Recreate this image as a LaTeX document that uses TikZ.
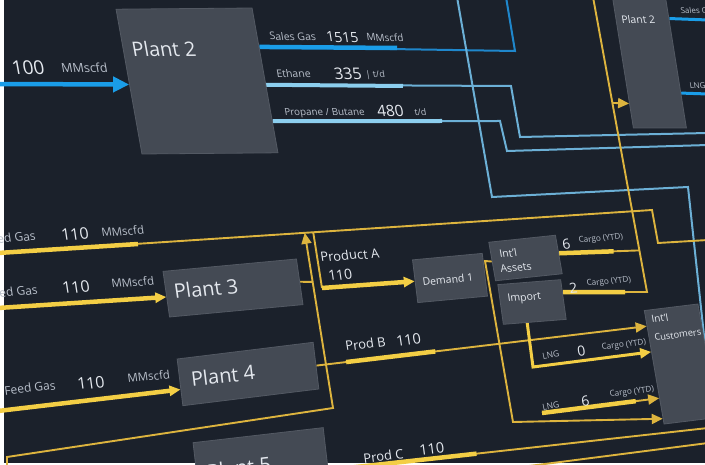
\documentclass[tikz,border=0pt]{standalone}
\usepackage{fontspec}
\setmainfont{Open Sans}
\usepackage{xcolor}
\usepackage{tikz}
\usetikzlibrary{arrows.meta, calc, positioning}

\definecolor{bgnavy}{HTML}{1B212B}
\definecolor{boxfill}{HTML}{444A54}
\definecolor{boxedge}{HTML}{535963}
\definecolor{txtmain}{HTML}{E4E8EE}
\definecolor{txtsub}{HTML}{B8BFCA}
\definecolor{gasbright}{HTML}{1A9DE8}
\definecolor{gasthin}{HTML}{1F87CC}
\definecolor{nglbright}{HTML}{8CCEEE}
\definecolor{nglthin}{HTML}{6CB0D6}
\definecolor{yelbright}{HTML}{F3CE45}
\definecolor{yelthin}{HTML}{DDB43E}

\pgfdeclarelayer{backdrop}
\pgfdeclarelayer{wires}
\pgfsetlayers{backdrop,wires,main}

\tikzset{
  box/.style={draw=boxedge, fill=boxfill, line width=0.8pt, inner sep=0pt},
  tilt/.style 2 args={rotate=#1, xslant=#2},
  fs/.style={font=\fontsize{#1}{#1}\selectfont},
  lbl/.style={text=txtmain, anchor=base west, inner sep=0pt, outer sep=0pt},
  unitlbl/.style={lbl, text=txtsub},
  gasbar/.style={draw=gasbright, line width=4.5pt},
  gasline/.style={draw=gasthin, line width=2pt},
  nglbar/.style={draw=nglbright, line width=4pt},
  nglline/.style={draw=nglthin, line width=2pt},
  ybar/.style={draw=yelbright, line width=4.5pt},
  yline/.style={draw=yelthin, line width=1.9pt},
  ymid/.style={draw=yelbright, line width=3pt},
  yarrow/.style={-{Triangle[length=11pt, width=10pt]}},
  gasarrow/.style={-{Triangle[length=16pt, width=15pt]}}
}

\begin{document}
\begin{tikzpicture}[x=1pt, y=-1pt]

    \useasboundingbox (0,0) rectangle (705,465);
    \begin{pgfonlayer}{backdrop}
      \fill[white] (0,0) rectangle (705,465);
      \fill[bgnavy] (4,0) rectangle (705,463);
    \end{pgfonlayer}

    % plants and sinks
    \node[box, tilt={0.5}{-0.17}, minimum width=136pt, minimum height=145pt] (plant2) at (197,81) {};
    \node[box, tilt={0}{-0.16}, minimum width=53pt, minimum height=130pt] (plant2r) at (649.5,63) {};
    \node[box, tilt={5.3}{-0.05}, minimum width=134pt, minimum height=46pt] (plant3) at (233,288) {};
    \node[box, tilt={7}{0}, minimum width=137pt, minimum height=47pt] (plant4) at (248,374) {};
    \node[box, tilt={6.6}{0}, minimum width=131pt, minimum height=50pt] (plant5) at (261,460) {};
    \node[box, tilt={5.3}{-0.03}, minimum width=70pt, minimum height=43pt] (demand1) at (450,278) {};
    \node[box, tilt={6}{-0.07}, minimum width=67pt, minimum height=39pt] (assets) at (525.5,258) {};
    \node[box, tilt={4.5}{-0.06}, minimum width=63pt, minimum height=40pt] (import) at (532,302) {};
    \node[box, tilt={7}{-0.05}, minimum width=54pt, minimum height=115pt] (cust) at (681,364) {};

    \begin{pgfonlayer}{wires}
    % gas side
    \coordinate (gasIn) at (-2,84);
    \draw[gasbar, gasarrow] (gasIn) -- ($(plant2.north west)!0.52!(plant2.south west)$);

    \coordinate (sgOut) at ($(plant2.north east)!0.27!(plant2.south east)$);
    \coordinate (sgTurn) at (515,51);
    \coordinate (sgTop) at (506,-3);
    \draw[gasline] (sgOut) -- (sgTurn) -- (sgTop);
    \draw[gasbar] (sgOut) -- (397,48);

    \coordinate (etOut) at ($(plant2.north east)!0.53!(plant2.south east)$);
    \coordinate (etTurnA) at (511,86);
    \coordinate (etTurnB) at (520,137);
    \coordinate (etEnd) at (708,133);
    \draw[nglline] (etOut) -- (etTurnA) -- (etTurnB) -- (etEnd);
    \draw[nglbar] (etOut) -- (403,86);

    \coordinate (prOut) at ($(plant2.north east)!0.78!(plant2.south east)$);
    \coordinate (prTurnA) at (500,121);
    \coordinate (prTurnB) at (507,151);
    \coordinate (prEnd) at (708,145);
    \draw[nglline] (prOut) -- (prTurnA) -- (prTurnB) -- (prEnd);
    \draw[nglbar] (prOut) -- (442,121);

    \coordinate (lbTop) at (457,-3);
    \coordinate (lbTurnA) at (492,197);
    \coordinate (lbTurnB) at (688,187);
    \coordinate (lbEnd) at (705,345);
    \draw[nglline] (lbTop) -- (lbTurnA) -- (lbTurnB) -- (lbEnd);

    \draw[gasbar, line width=3pt] ($(plant2r.north east)!0.16!(plant2r.south east)$) -- (708,20);
    \draw[gasbar, line width=3pt] ($(plant2r.north east)!0.73!(plant2r.south east)$) -- (708,94);

    % feed side
    \coordinate (feedTopIn) at (-2,253);
    \coordinate (feedTopTurnA) at (652,210);
    \coordinate (feedTopTurnB) at (658,243);
    \coordinate (feedTopEnd) at (708,240);
    \draw[yline] (feedTopIn) -- (feedTopTurnA) -- (feedTopTurnB) -- (feedTopEnd);
    \draw[ybar] (feedTopIn) -- (138,244);
    \coordinate (joinUp) at ($(feedTopIn)!0.469!(feedTopTurnA)$);
    \coordinate (joinA) at ($(feedTopIn)!0.482!(feedTopTurnA)$);

    \coordinate (feed3In) at (-2,308);
    \draw[ybar, yarrow] (feed3In) -- ($(plant3.north west)!0.56!(plant3.south west)$);
    \coordinate (feed4In) at (-2,411);
    \draw[ybar, yarrow] (feed4In) -- ($(plant4.north west)!0.65!(plant4.south west)$);

    \coordinate (loopA) at (7,470);
    \coordinate (loopB) at (7,457);
    \coordinate (loopC) at (333,408);
    \draw[yline, yarrow] (loopA) -- (loopB) -- (loopC) -- (joinUp);
    \draw[yline] (plant3.east) -- ($(loopC)!0.72!(joinUp)$);

    \coordinate (prodATurn) at (322,288);
    \draw[yline] (joinA) -- (prodATurn);
    \draw[ybar, yarrow] (prodATurn) -- (demand1.west);

    \coordinate (custB) at ($(cust.north west)!0.14!(cust.south west)$);
    \draw[yline, yarrow] (plant4.east) -- (custB);
    \draw[ybar] ($(plant4.east)!0.09!(custB)$) -- ($(plant4.east)!0.36!(custB)$);

    \coordinate (assetsTurnA) at (485,261);
    \coordinate (assetsTurnB) at (513,422);
    \draw[yline, yarrow] (assets.west) -- (assetsTurnA) -- (assetsTurnB) -- ($(cust.north west)!0.95!(cust.south west)$);

    \coordinate (lngSixIn) at (542,413);
    \coordinate (custL6) at ($(cust.north west)!0.77!(cust.south west)$);
    \draw[yline, yarrow] (lngSixIn) -- (custL6);
    \draw[ybar] (lngSixIn) -- ($(lngSixIn)!0.8!(custL6)$);

    \coordinate (lngZeroOut) at ($(import.south west)!0.38!(import.south east)$);
    \coordinate (lngZeroTurn) at (533,367);
    \draw[ymid, yarrow] (lngZeroOut) -- (lngZeroTurn) -- ($(cust.north west)!0.365!(cust.south west)$);

    \coordinate (upTop) at (593,-3);
    \coordinate (upBot) at (647,292);
    \coordinate (c6Out) at ($(assets.north east)!0.47!(assets.south east)$);
    \coordinate (c6Join) at ($(upTop)!0.859!(upBot)$);
    \draw[yline] (c6Out) -- (c6Join);
    \draw[ybar] (c6Out) -- ($(c6Out)!0.68!(c6Join)$);
    \coordinate (c2Out) at ($(import.north east)!0.32!(import.south east)$);
    \draw[yline] (c2Out) -- (upBot) -- (upTop);
    \draw[ybar] (c2Out) -- ($(c2Out)!0.74!(upBot)$);
    \coordinate (upBranch) at ($(upTop)!0.359!(upBot)$);
    \draw[yline, yarrow] (upBranch) -- ($(plant2r.north west)!0.81!(plant2r.south west)$);

    \coordinate (prodCOut) at ($(plant5.north east)!0.85!(plant5.south east)$);
    \coordinate (prodCEnd) at (708,428);
    \draw[yline] (prodCOut) -- (prodCEnd);
    \draw[ybar] (prodCOut) -- ($(prodCOut)!0.39!(prodCEnd)$);
    \coordinate (bottomIn) at (498,470);
    \coordinate (bottomEnd) at (708,443);
    \draw[yline] (bottomIn) -- (bottomEnd);
    \end{pgfonlayer}

    % labels, top
    \node[lbl, fs=19, tilt={0.5}{-0.17}] (inVal) at (13,75) {100};
    \node[unitlbl, fs=12.5, tilt={0.5}{-0.17}] (inUnit) at (62,73) {MMscfd};
    \node[lbl, fs=20, tilt={0.5}{-0.17}] (plant2lbl) at (133,57) {Plant 2};
    \node[unitlbl, fs=10.5, tilt={-0.5}{-0.17}] (sgName) at (270,40) {Sales Gas};
    \node[lbl, fs=14, tilt={-0.5}{-0.17}] (sgVal) at (327,42) {1515};
    \node[unitlbl, fs=10, tilt={-0.5}{-0.17}] (sgUnit) at (367,41) {MMscfd};
    \node[unitlbl, fs=10.5, tilt={0}{-0.17}] (etName) at (277,78) {Ethane};
    \node[lbl, fs=16, tilt={0}{-0.17}] (etVal) at (335,80) {335};
    \node[unitlbl, fs=9, tilt={0}{-0.17}] (etUnit) at (366,78) {| t/d};
    \node[unitlbl, fs=9.8, tilt={0.3}{-0.17}] (prName) at (285,116) {Propane / Butane};
    \node[lbl, fs=15.5, tilt={0.3}{-0.17}] (prVal) at (378,117) {480};
    \node[unitlbl, fs=9, tilt={0.3}{-0.17}] (prUnit) at (415,116) {t/d};
    \node[lbl, fs=10.5, tilt={0}{-0.16}] (plant2rlbl) at (622,24) {Plant 2};
    \node[unitlbl, fs=8, tilt={0}{-0.16}] (sgName2) at (681,14) {Sales Gas};
    \node[unitlbl, fs=8, tilt={0}{-0.16}] (lngName2) at (690,89) {LNG};

    % labels, middle
    \node[unitlbl, fs=12, tilt={4}{-0.08}] (f1Name) at (-15,244) {Feed Gas};
    \node[lbl, fs=16, tilt={4}{-0.08}] (f1Val) at (62,241) {110};
    \node[unitlbl, fs=11.5, tilt={4}{-0.08}] (f1Unit) at (102,237) {MMscfd};
    \node[unitlbl, fs=12, tilt={4}{-0.08}] (f2Name) at (-13,298) {Feed Gas};
    \node[lbl, fs=16, tilt={4}{-0.08}] (f2Val) at (63,294) {110};
    \node[unitlbl, fs=11.5, tilt={4}{-0.08}] (f2Unit) at (112,288) {MMscfd};
    \node[lbl, fs=20, tilt={5.3}{-0.05}] (plant3lbl) at (175,299) {Plant 3};
    \node[lbl, fs=13, tilt={4}{-0.08}] (paName) at (321,262) {Product A};
    \node[lbl, fs=14, tilt={4}{-0.08}] (paVal) at (329,281) {110};
    \node[lbl, fs=10.5, tilt={5.3}{-0.03}] (demandlbl) at (423,286) {Demand 1};
    \node[lbl, fs=10.5, tilt={6}{-0.07}] (assetslblA) at (500,258) {Int'l};
    \node[lbl, fs=10.5, tilt={6}{-0.07}] (assetslblB) at (501,273) {Assets};
    \node[lbl, fs=10.5, tilt={4.5}{-0.06}] (importlbl) at (508,302) {Import};
    \node[lbl, fs=14, tilt={5}{-0.07}] (c6Val) at (563,250) {6};
    \node[unitlbl, fs=8.2, tilt={5}{-0.07}] (c6Unit) at (579,243) {Cargo (YTD)};
    \node[lbl, fs=14, tilt={5}{-0.07}] (c2Val) at (570,294) {2};
    \node[unitlbl, fs=8.2, tilt={5}{-0.07}] (c2Unit) at (587,286) {Cargo (YTD)};

    % labels, bottom
    \node[unitlbl, fs=12, tilt={6}{-0.03}] (f3Name) at (5,395) {Feed Gas};
    \node[lbl, fs=16, tilt={6}{-0.03}] (f3Val) at (78,390) {110};
    \node[unitlbl, fs=11.5, tilt={6}{-0.03}] (f3Unit) at (128,383) {MMscfd};
    \node[lbl, fs=20, tilt={7}{0}] (plant4lbl) at (192,387) {Plant 4};
    \node[lbl, fs=20, tilt={6.6}{0}] (plant5lbl) at (208,479) {Plant 5};
    \node[lbl, fs=13, tilt={7}{-0.03}] (pbName) at (346,351) {Prod B};
    \node[lbl, fs=14.5, tilt={7}{-0.03}] (pbVal) at (397,347) {110};
    \node[lbl, fs=10, tilt={7}{-0.05}] (custlblA) at (652,323) {Int'l};
    \node[lbl, fs=9.3, tilt={7}{-0.05}] (custlblB) at (655,341) {Customers};
    \node[unitlbl, fs=8.5, tilt={10}{-0.03}] (l0Name) at (543,359) {LNG};
    \node[lbl, fs=14, tilt={7}{-0.03}] (l0Val) at (578,357) {0};
    \node[unitlbl, fs=8.2, tilt={7}{-0.03}] (l0Unit) at (602,350) {Cargo (YTD)};
    \node[unitlbl, fs=8.5, tilt={10}{-0.03}] (l6Name) at (543,410) {LNG};
    \node[lbl, fs=14, tilt={7}{-0.03}] (l6Val) at (582,406) {6};
    \node[unitlbl, fs=8.2, tilt={7}{-0.03}] (l6Unit) at (610,397) {Cargo (YTD)};
    \node[lbl, fs=13, tilt={6}{-0.03}] (pcName) at (364,463) {Prod C};
    \node[lbl, fs=14.5, tilt={6}{-0.03}] (pcVal) at (420,455) {110};

\end{tikzpicture}
\end{document}
